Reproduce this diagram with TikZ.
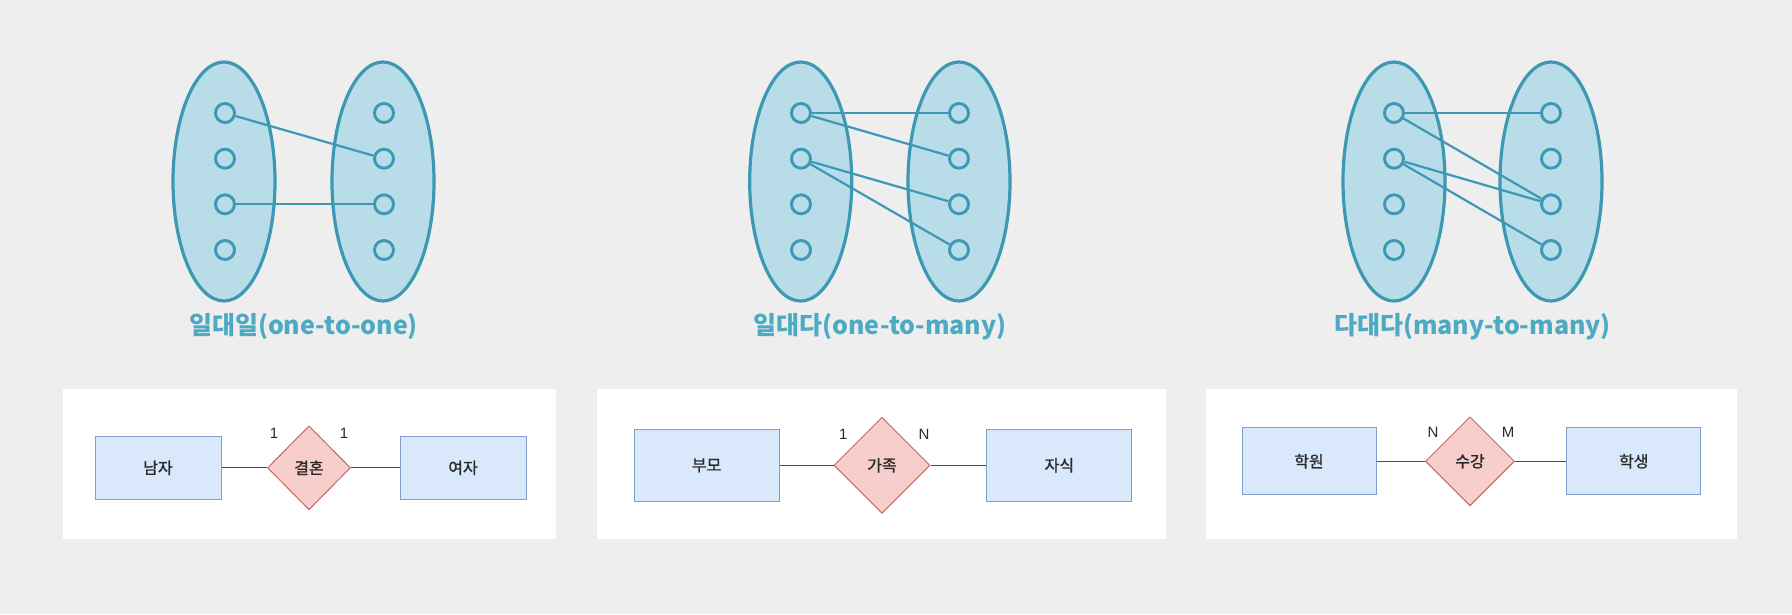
\documentclass[tikz,border=0pt]{standalone}
\usepackage{fontspec}
\setmainfont{Liberation Sans}
\newfontfamily\kofont{Noto Sans CJK KR}
\newfontfamily\kotext[FakeBold=1.2]{Noto Sans CJK KR}
\usepackage{tikz}
\usetikzlibrary{shapes.geometric, positioning}
\definecolor{canvas}{HTML}{EEEEEE}
\definecolor{setFill}{HTML}{B8DDE8}
\definecolor{setLine}{HTML}{3D98B3}
\definecolor{capBlue}{HTML}{4DAAC3}
\definecolor{entFill}{HTML}{DAE8FC}
\definecolor{entLine}{HTML}{7F9FCC}
\definecolor{relFill}{HTML}{F8CECC}
\definecolor{relLine}{HTML}{C06A66}
\definecolor{ink}{HTML}{2A2A2A}
\definecolor{wire}{HTML}{4A4A4A}

\begin{document}
\begin{tikzpicture}[
  x=1pt, y=-1pt,
  setbox/.style={ellipse, draw=setLine, fill=setFill, line width=3.2pt,
    minimum width=102pt, minimum height=239pt, inner sep=0pt},
  elem/.style={circle, draw=setLine, fill=setFill, line width=2.9pt,
    minimum size=19pt, inner sep=0pt},
  link/.style={draw=setLine, line width=2.2pt},
  setlabel/.style={font=\kofont\bfseries\fontsize{25}{30}\selectfont, text=capBlue, inner sep=0pt},
  entity/.style={rectangle, draw=entLine, fill=entFill, line width=1pt, inner sep=0pt,
    font=\kotext\fontsize{16}{19}\selectfont, text=ink},
  relation/.style={diamond, draw=relLine, fill=relFill, line width=1pt, inner sep=0pt,
    font=\kotext\fontsize{16}{19}\selectfont, text=ink},
  card/.style={font=\fontsize{15}{18}\selectfont, text=ink, inner sep=0pt},
  edge/.style={draw=wire, line width=1.3pt},
]
  \useasboundingbox[fill=canvas] (0,0) rectangle (1792,614);

  % set diagrams
  \node[setbox] (aLset) at (224,181.5) {};
  \node[setbox] (aRset) at (383,181.5) {};
  \node[setbox] (bLset) at (800.7,181.5) {};
  \node[setbox] (bRset) at (959,181.5) {};
  \node[setbox] (cLset) at (1394,181.5) {};
  \node[setbox] (cRset) at (1551,181.5) {};

  \foreach \p/\lx/\rx in {a/225/384, b/801/959, c/1394/1551} {
    \foreach \i/\y in {1/113, 2/158.7, 3/204.3, 4/250} {
      \node[elem] (\p L\i) at (\lx,\y) {};
      \node[elem] (\p R\i) at (\rx,\y) {};
    }
  }

  \draw[link] (aL1) -- (aR2);
  \draw[link] (aL3) -- (aR3);

  \draw[link] (bL1) -- (bR1);
  \draw[link] (bL1) -- (bR2);
  \draw[link] (bL2) -- (bR3);
  \draw[link] (bL2) -- (bR4);

  \draw[link] (cL1) -- (cR1);
  \draw[link] (cL1) -- (cR3);
  \draw[link] (cL2) -- (cR3);
  \draw[link] (cL2) -- (cR4);

  \node[setlabel] (oneone) at (303.5,327) {일대일(one-to-one)};
  \node[setlabel] (onemany) at (880,327) {일대다(one-to-many)};
  \node[setlabel] (manymany) at (1472.5,327) {다대다(many-to-many)};

  % ER panels
  \fill[white] (63,388.5) rectangle (556,539);
  \fill[white] (596.6,388.5) rectangle (1166,539);
  \fill[white] (1206,388.5) rectangle (1737,539);

  \node[entity, minimum width=126pt, minimum height=63pt] (man) at (158,467.8) {남자};
  \node[relation, minimum width=83pt, minimum height=84pt] (marriage) at (309,467.8) {결혼};
  \node[entity, minimum width=126pt, minimum height=63pt] (woman) at (463,467.8) {여자};
  \draw[edge] (man) -- (marriage);
  \draw[edge] (marriage) -- (woman);
  \node[card] (marriageL) at (274,433) {1};
  \node[card] (marriageR) at (344,433) {1};

  \node[entity, minimum width=145pt, minimum height=72pt] (parent) at (706.6,465.3) {부모};
  \node[relation, minimum width=96pt, minimum height=96pt] (family) at (882,465.3) {가족};
  \node[entity, minimum width=145pt, minimum height=72pt] (child) at (1059.4,465.3) {자식};
  \draw[edge] (parent) -- (family);
  \draw[edge] (family) -- (child);
  \node[card] (familyL) at (843.3,434.3) {1};
  \node[card] (familyR) at (924,434.3) {N};

  \node[entity, minimum width=134pt, minimum height=67pt] (academy) at (1309,461.3) {학원};
  \node[relation, minimum width=89pt, minimum height=89pt] (course) at (1470,461.3) {수강};
  \node[entity, minimum width=134pt, minimum height=67pt] (student) at (1633.8,461.3) {학생};
  \draw[edge] (academy) -- (course);
  \draw[edge] (course) -- (student);
  \node[card] (courseL) at (1433,432.7) {N};
  \node[card] (courseR) at (1508,432.7) {M};
\end{tikzpicture}
\end{document}
